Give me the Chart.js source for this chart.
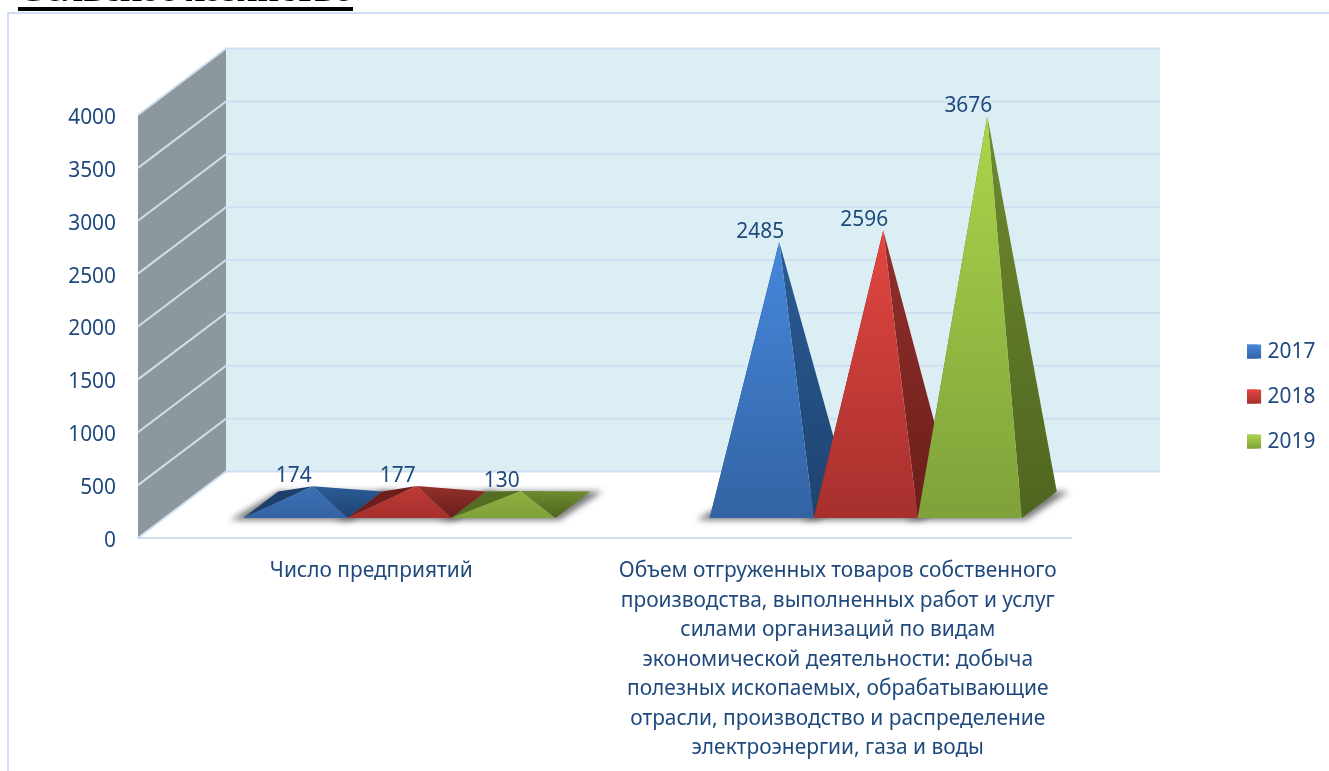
<!DOCTYPE html>
<html lang="ru"><head><meta charset="utf-8">
<style>
html,body{margin:0;padding:0;background:#fff;overflow:hidden}
#wrap{position:relative;width:1329px;height:771px;overflow:hidden}
canvas{position:absolute;left:0;top:0}
#head{position:absolute;left:18px;top:-29px;margin:0;font:bold 37.6px/36px "Liberation Serif",serif;color:#000;border-bottom:4px solid #000;white-space:nowrap;z-index:2}
</style>
<script src="https://cdn.jsdelivr.net/npm/chart.js@4/dist/chart.umd.min.js"></script>
</head><body>
<div id="wrap"><h1 id="head">Сельское хозяйство</h1><canvas id="c" width="1329" height="771"></canvas></div>
<script>
const categories = [
  "Число предприятий",
  ["Объем отгруженных товаров собственного","производства, выполненных работ и услуг","силами организаций по видам","экономической деятельности: добыча","полезных ископаемых, обрабатывающие","отрасли, производство и распределение","электроэнергии, газа и воды"]
];
const seriesNames = ["2017","2018","2019"];
const values2017 = [174, 2485];
const values2018 = [177, 2596];
const values2019 = [130, 3676];
const tickStep = 500, axisMax = 4000;

const FONT = '"Noto Sans"';
const FSIZE = 20.9;
const TEXT = '#1F497D';
const palette = [
  {mid:'#3B70B6', top:'#4688DC', bottom:'#3363A3', sideTop:'#2B5C96', sideBottom:'#1E4370', left:'#1D3F6B'},
  {mid:'#C03A37', top:'#E34641', bottom:'#A6302D', sideTop:'#92302B', sideBottom:'#6B1E1B', left:'#6E1F1C'},
  {mid:'#8FB03F', top:'#ABD64B', bottom:'#7FA13A', sideTop:'#6F8B2F', sideBottom:'#4F651F', left:'#556E22'}
];
// 3-D projection of the chart box
const WALL = {dx:88, dy:-66.5, right:1160};
const BASE = {dx:28, dy:-20, ddx:35, ddy:-26.6};
const LINE = '#D0DEF1';

function apexOf(e){
  const fx = e.x + BASE.dx, fy = e.base + BASE.dy, w = e.width;
  return {fl:[fx-w/2,fy], fr:[fx+w/2,fy], br:[fx+w/2+BASE.ddx,fy+BASE.ddy], bl:[fx-w/2+BASE.ddx,fy+BASE.ddy],
          ap:[fx+BASE.ddx/2, e.y + BASE.dy + BASE.ddy/2]};
}
function tri(ctx,pts,fill){
  ctx.beginPath();ctx.moveTo(pts[0][0],pts[0][1]);
  for(let i=1;i<pts.length;i++)ctx.lineTo(pts[i][0],pts[i][1]);
  ctx.closePath();ctx.fillStyle=fill;ctx.fill();
}
function grad(ctx,y0,y1,a,b){const g=ctx.createLinearGradient(0,y0,0,y1);g.addColorStop(0,a);g.addColorStop(1,b);return g;}

const box3d = {
  id:'box3d',
  afterLayout(chart){
    const l = chart.legend;
    l.left = 1223; l.right = 1329; l.top = 317; l.bottom = 480;
  },
  afterUpdate(chart){
    chart.scales.y.getLabelItems().forEach(it=>{it.options.translation[1] += 3;});
  },
  beforeDraw(chart){
    const {ctx,scales:{x,y},chartArea:a} = chart;
    ctx.save();
    // outer frame
    ctx.strokeStyle = LINE; ctx.lineWidth = 2;
    ctx.beginPath();ctx.moveTo(8,771);ctx.lineTo(8,13);ctx.lineTo(1329,13);ctx.stroke();
    const top = y.getPixelForValue(axisMax), bot = y.getPixelForValue(0);
    // back wall
    ctx.fillStyle = '#DBEEF4';
    ctx.fillRect(a.left+WALL.dx, top+WALL.dy, WALL.right-a.left-WALL.dx, bot-top);
    // side wall
    tri(ctx,[[a.left,top],[a.left+WALL.dx,top+WALL.dy],[a.left+WALL.dx,bot+WALL.dy],[a.left,bot]],'#8D989C');
    // grid lines on walls
    ctx.lineWidth = 2;
    y.ticks.forEach(t=>{
      const py = y.getPixelForValue(t.value);
      ctx.strokeStyle = LINE;
      ctx.beginPath();ctx.moveTo(a.left,py);ctx.lineTo(a.left+WALL.dx,py+WALL.dy);ctx.lineTo(WALL.right,py+WALL.dy);ctx.stroke();
    });
    ctx.restore();
  },
  beforeDatasetsDraw(chart){
    const ctx = chart.ctx;
    ctx.save();
    // soft floor shadows
    const metas = chart.data.datasets.map((d,i)=>chart.getDatasetMeta(i));
    metas.forEach(m=>m.data.forEach(e=>{
      const p = apexOf(e);
      ctx.save();
      ctx.filter='blur(3px)';
      tri(ctx,[[p.fl[0]-13,p.fl[1]+2],[p.fr[0]+4,p.fr[1]+2],[p.br[0]+12,p.br[1]],[p.bl[0],p.bl[1]]],'rgba(95,95,95,.85)');
      ctx.restore();
    }));
    // pyramids: first series at the back, last in front
    metas.forEach((m,si)=>{
      const c = palette[si];
      m.data.forEach(e=>{
        const p = apexOf(e);
        const tall = e.base - e.y > 60;
        tri(ctx,[p.fl,p.bl,p.ap],c.left);
        tri(ctx,[p.fr,p.br,p.ap],grad(ctx,p.ap[1],p.fr[1],c.sideTop,c.sideBottom));
        tri(ctx,[p.fl,p.fr,p.ap],grad(ctx,p.ap[1],p.fr[1],tall?c.top:c.mid,c.bottom));
      });
    });
    ctx.restore();
  },
  beforeDatasetDraw(){ return false; },
  afterDatasetsDraw(chart){
    const ctx = chart.ctx;
    ctx.save();
    ctx.font = FSIZE+'px '+FONT; ctx.fillStyle = TEXT; ctx.textAlign='center'; ctx.textBaseline='middle';
    chart.data.datasets.forEach((d,i)=>{
      chart.getDatasetMeta(i).data.forEach((e,j)=>{
        const p = apexOf(e);
        ctx.fillText(String(d.data[j]), p.ap[0]-19, p.ap[1]-10);
      });
    });
    ctx.restore();
  },
  afterDraw(chart){
    const ctx = chart.ctx, hit = chart.legend.legendHitBoxes;
    hit.forEach((h,i)=>{
      const t = h.top + (h.height-14)/2;
      ctx.fillStyle = grad(ctx,t,t+14,palette[i].top,palette[i].bottom);
      ctx.fillRect(h.left,t,14,14);
    });
  }
};

new Chart(document.getElementById('c'),{
  type:'bar',
  data:{labels:categories,datasets:[
    {label:seriesNames[0],data:values2017,backgroundColor:palette[0].mid},
    {label:seriesNames[1],data:values2018,backgroundColor:palette[1].mid},
    {label:seriesNames[2],data:values2019,backgroundColor:palette[2].mid}
  ]},
  plugins:[box3d],
  options:{
    responsive:false,animation:false,
    layout:{padding:{left:0,top:115,right:258,bottom:0}},
    categoryPercentage:0.669,barPercentage:1,
    plugins:{
      title:{display:false},tooltip:{enabled:false},
      legend:{position:'chartArea',align:'start',
        labels:{boxWidth:10,boxHeight:14,padding:24.1,color:TEXT,font:{family:FONT,size:FSIZE,lineHeight:1.2}}}
    },
    scales:{
      x:{
        afterFit(s){s.height=233;},
        grid:{display:false,drawTicks:false},
        border:{display:true,color:LINE,width:2},
        ticks:{color:TEXT,maxRotation:0,minRotation:0,autoSkip:false,padding:18.5,font:{family:FONT,size:FSIZE,lineHeight:'29.5px'}}
      },
      y:{
        min:0,max:axisMax,
        afterFit(s){s.width=138;},
        grid:{display:false,drawTicks:false},
        border:{display:false},
        ticks:{stepSize:tickStep,color:TEXT,padding:22,font:{family:FONT,size:FSIZE},callback:v=>String(v)}
      }
    }
  }
});
</script>
</body></html>
